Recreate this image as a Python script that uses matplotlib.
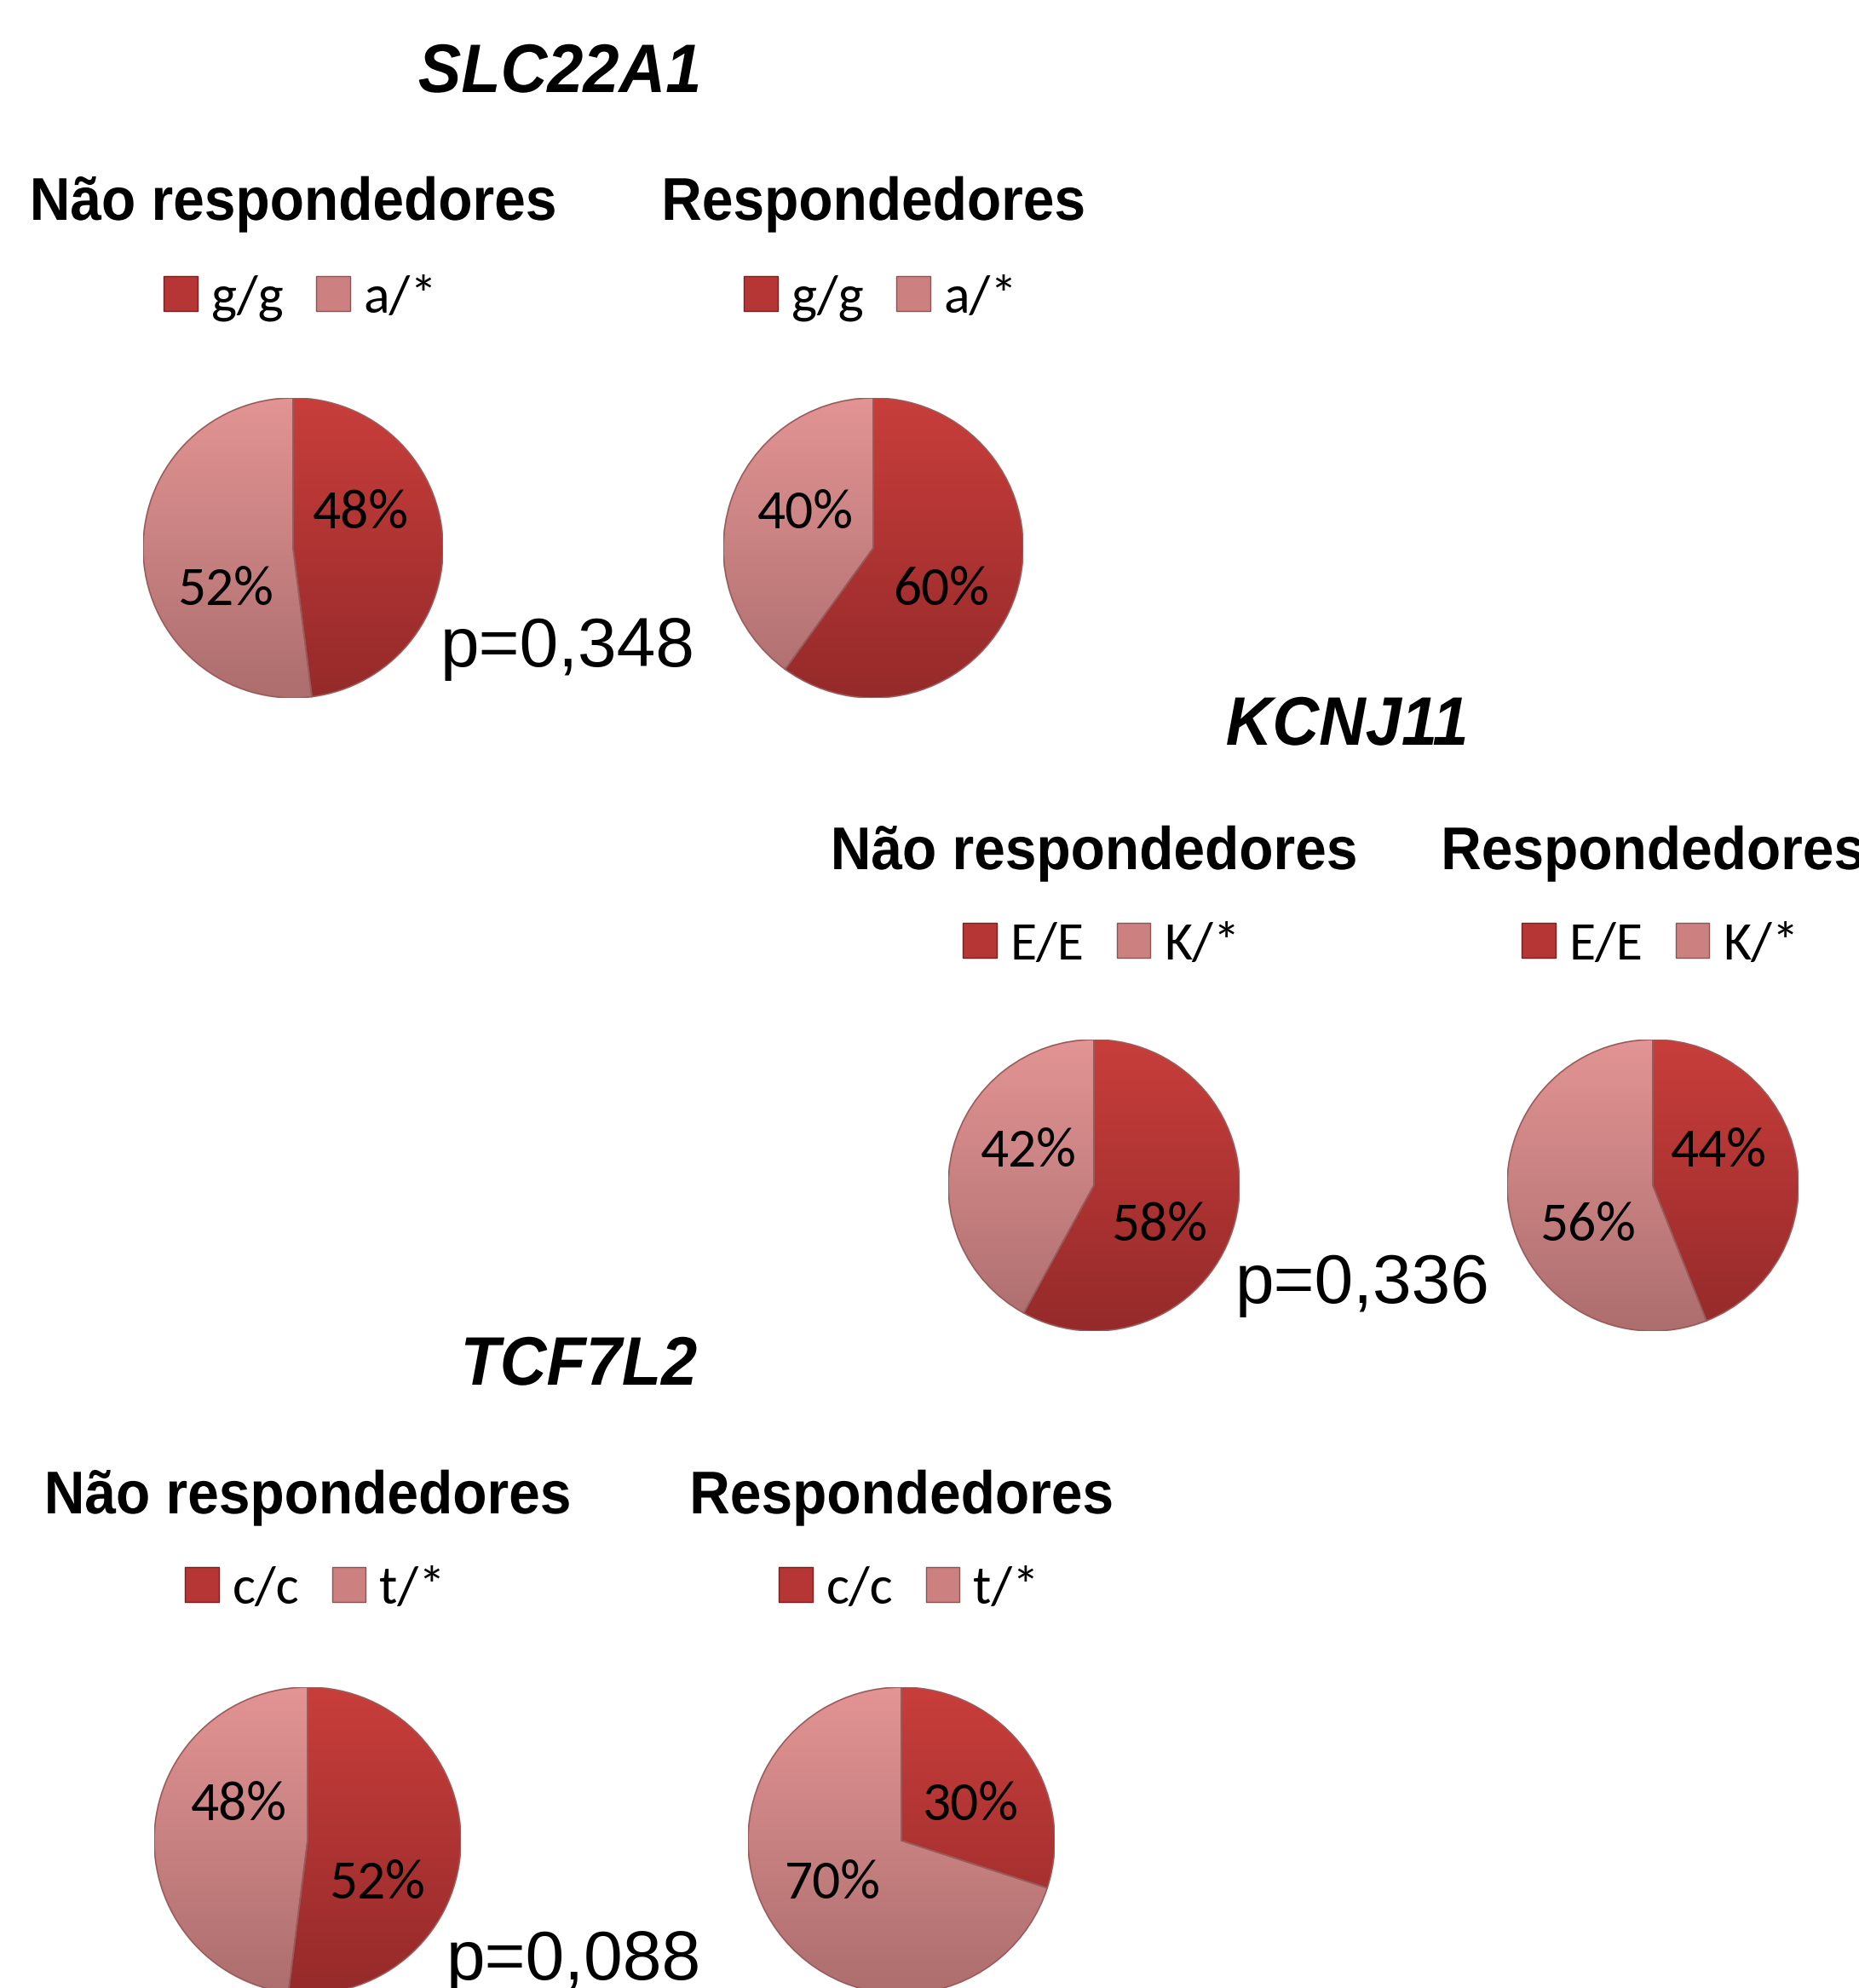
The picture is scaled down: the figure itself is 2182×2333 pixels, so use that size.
import numpy as np
import matplotlib
matplotlib.use("Agg")
import matplotlib.pyplot as plt
from matplotlib.patches import Patch, Wedge
from matplotlib.colors import LinearSegmentedColormap
from matplotlib.patheffects import AbstractPathEffect
from matplotlib.transforms import Affine2D

W, H = 2182, 2333

genes = ["SLC22A1", "KCNJ11", "TCF7L2"]
groups = ["Não respondedores", "Respondedores"]
genotypes = [["g/g", "a/*"], ["E/E", "K/*"], ["c/c", "t/*"]]
# % of homozygous genotype (first legend entry); the rest is the carrier group
nao_resp = [48, 58, 52]
resp = [60, 44, 30]
p_values = ["p=0,348", "p=0,336", "p=0,088"]

# layout in pixels of the final picture
title_xy = [(657, 108), (1581, 874), (679, 1625)]
pie_x = [[344, 1025], [1284, 1940], [361, 1058]]
pie_y = [643, 1391, 2160]
pie_r = [176, 171, 180]
sub_y = [258, 1020, 1776]
legend_y = [350, 1109, 1865]
p_xy = [(666, 782), (1599, 1529), (673, 2323)]

DARK = ("#C83E3B", "#952A2A")
LIGHT = ("#E39494", "#AD6E6E")
dark_cmap = LinearSegmentedColormap.from_list("dark", DARK)
light_cmap = LinearSegmentedColormap.from_list("light", LIGHT)

CAL = ["Carlito", "Lato", "DejaVu Sans"]
ARIAL = ["Liberation Sans", "DejaVu Sans"]


class Squeeze(AbstractPathEffect):
    """narrows glyphs horizontally around the middle of each line"""

    def __init__(self, sx):
        super().__init__()
        self.sx = sx

    def draw_path(self, renderer, gc, tpath, affine, rgbFace=None):
        ext = tpath.get_extents()
        cx = (ext.x0 + ext.x1) / 2
        sq = Affine2D().translate(-cx, 0).scale(self.sx, 1).translate(cx, 0)
        renderer.draw_path(gc, tpath, sq + affine, rgbFace)


def fx(x):
    return x / W


def fy(y):
    return 1 - y / H


def draw_pie(fig, cx, cy, r, values):
    ax = fig.add_axes([fx(cx - r), fy(cy + r), 2 * r / W, 2 * r / H])
    wedges, _ = ax.pie(values, startangle=90, counterclock=False, radius=1,
                       colors=[DARK[0], LIGHT[0]],
                       wedgeprops=dict(edgecolor="none"))
    grad = np.linspace(0, 1, 256).reshape(-1, 1)
    for w, cmap in zip(wedges, [dark_cmap, light_cmap]):
        im = ax.imshow(grad, cmap=cmap, extent=(-1, 1, -1, 1), aspect="auto", zorder=2)
        im.set_clip_path(w)
    for w in wedges:
        ax.add_patch(Wedge(w.center, w.r, w.theta1, w.theta2, fill=False,
                           edgecolor="#9a5a5a", lw=1.2, zorder=3))
    for w, v in zip(wedges, values):
        mid = np.deg2rad((w.theta1 + w.theta2) / 2)
        x = 0.45 * np.sign(np.cos(mid))
        y = 0.23 if v < 50 else -0.28
        ax.text(x, y, f"{v}%", ha="center", va="center", fontsize=47,
                family=CAL, zorder=4)
    ax.set_xlim(-1, 1)
    ax.set_ylim(-1, 1)
    ax.set_aspect("equal")
    ax.axis("off")


fig = plt.figure(figsize=(W / 100, H / 100), dpi=100)

for i, gene in enumerate(genes):
    fig.text(fx(title_xy[i][0]), fy(title_xy[i][1]), gene, ha="center", va="baseline",
             fontsize=58, fontweight="bold", fontstyle="italic", family=ARIAL,
             path_effects=[Squeeze(0.94)])
    for j, vals in enumerate([nao_resp[i], resp[i]]):
        cx = pie_x[i][j]
        values = [vals, 100 - vals]
        fig.text(fx(cx), fy(sub_y[i]), groups[j], ha="center", va="baseline",
                 fontsize=51, fontweight="bold", family=ARIAL,
                 path_effects=[Squeeze(0.93)])
        handles = [Patch(facecolor="#B53634", edgecolor="#7a2020", label=genotypes[i][0]),
                   Patch(facecolor="#CC8080", edgecolor="#8a5555", label=genotypes[i][1])]
        fig.legend(handles=handles, loc="center", bbox_to_anchor=(fx(cx + 9), fy(legend_y[i])),
                   ncol=2, frameon=False, prop=dict(family=CAL, size=46),
                   handlelength=0.62, handleheight=0.62, handletextpad=0.25,
                   columnspacing=0.6, borderpad=0.2)
        draw_pie(fig, cx, pie_y[i], pie_r[i], values)
    fig.text(fx(p_xy[i][0]), fy(p_xy[i][1]), p_values[i], ha="center", va="baseline",
             fontsize=59, family=ARIAL)

fig.savefig("out.png", dpi=100)
